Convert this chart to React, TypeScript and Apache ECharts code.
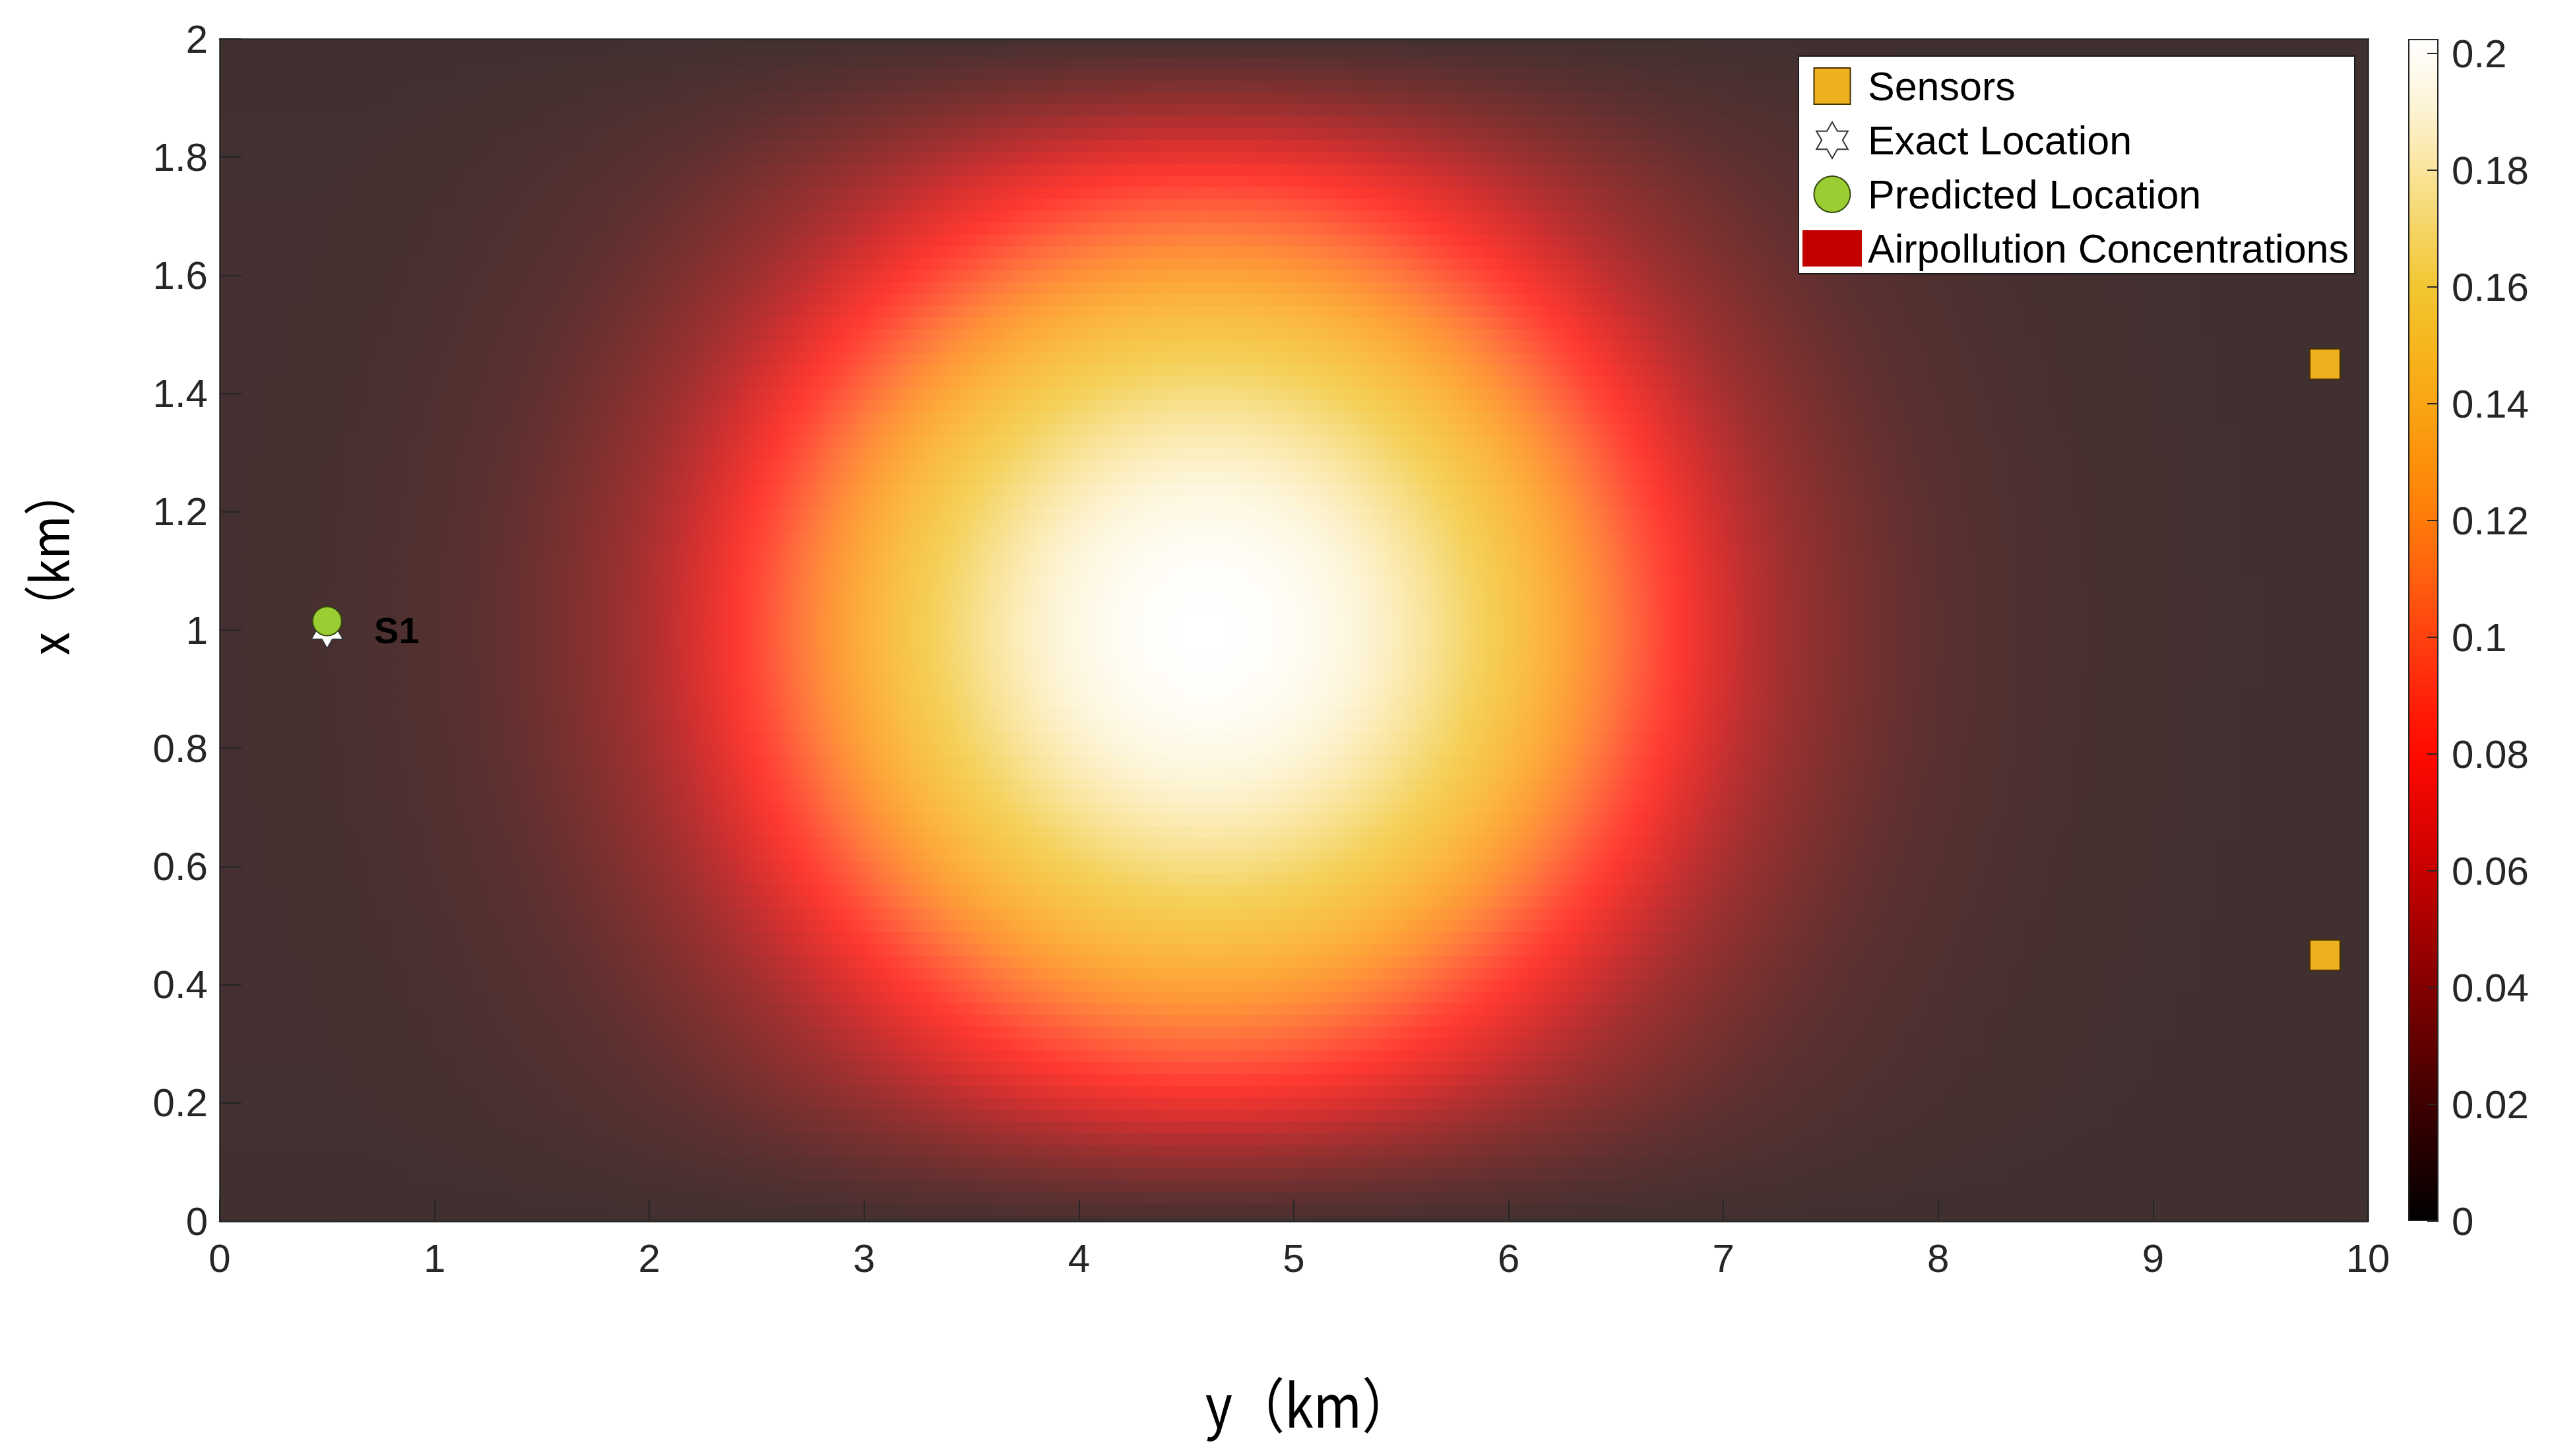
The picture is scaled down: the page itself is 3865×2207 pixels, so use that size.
import React, { useEffect, useRef } from "react";
import * as echarts from "echarts";

// ---------------- data ----------------
// sample positions along the horizontal axis "y (km)" and vertical axis "x (km)"
const ROW_Y: number[] = Array.from({ length: 101 }, (_, i) => +(i * 0.1).toFixed(1));
const COL_X: number[] = Array.from({ length: 101 }, (_, j) => +(j * 0.02).toFixed(2));

// concentration along the line x = 1.0 km, at y = 0, 0.1, ..., 10 km
const ROW_PROFILE: number[] = [
  0.0076, 0.0079, 0.0082, 0.0086, 0.0091, 0.0096, 0.0102, 0.011, 0.0119, 0.013,
  0.0143, 0.0158, 0.0176, 0.0198, 0.0224, 0.0255, 0.0292, 0.0328, 0.037, 0.0419,
  0.0476, 0.0541, 0.0615, 0.0699, 0.0789, 0.0886, 0.0984, 0.1082, 0.1177, 0.1268,
  0.1355, 0.1437, 0.1513, 0.1584, 0.165, 0.171, 0.1766, 0.1815, 0.186, 0.1899,
  0.1933, 0.1961, 0.1985, 0.2002, 0.2015, 0.2022, 0.2025, 0.2022, 0.2015, 0.2002,
  0.1985, 0.1961, 0.1933, 0.1899, 0.186, 0.1815, 0.1766, 0.171, 0.165, 0.1584,
  0.1513, 0.1437, 0.1355, 0.1268, 0.1177, 0.1082, 0.0984, 0.0886, 0.0789, 0.0699,
  0.0615, 0.0541, 0.0476, 0.0419, 0.037, 0.0328, 0.0292, 0.0255, 0.0224, 0.0198,
  0.0176, 0.0158, 0.0143, 0.013, 0.0119, 0.011, 0.0102, 0.0096, 0.0091, 0.0086,
  0.0082, 0.0079, 0.0076, 0.0074, 0.0072, 0.007, 0.0068, 0.0067, 0.0066, 0.0065,
  0.0064,
];

// concentration along the line y = 4.6 km, at x = 0, 0.02, ..., 2 km
const COL_PROFILE: number[] = [
  0.0085, 0.014, 0.0195, 0.0248, 0.0305, 0.0365, 0.0428, 0.0494, 0.0562, 0.0632,
  0.0702, 0.0772, 0.084, 0.0905, 0.0968, 0.1023, 0.1078, 0.1131, 0.1184, 0.1236,
  0.1285, 0.1334, 0.1381, 0.1427, 0.147, 0.1513, 0.1551, 0.1592, 0.1629, 0.1664,
  0.1698, 0.1732, 0.1762, 0.1791, 0.1817, 0.1843, 0.1867, 0.1889, 0.1909, 0.1928,
  0.1944, 0.196, 0.1974, 0.1987, 0.1996, 0.2005, 0.2012, 0.2017, 0.2021, 0.2024,
  0.2025,
  0.2024, 0.2021, 0.2017, 0.2012, 0.2005, 0.1996, 0.1987, 0.1974, 0.196, 0.1944,
  0.1928, 0.1909, 0.1889, 0.1867, 0.1843, 0.1817, 0.1791, 0.1762, 0.1732, 0.1698,
  0.1664, 0.1629, 0.1592, 0.1551, 0.1513, 0.147, 0.1427, 0.1381, 0.1334, 0.1285,
  0.1236, 0.1184, 0.1131, 0.1078, 0.1023, 0.0968, 0.0905, 0.084, 0.0772, 0.0702,
  0.0632, 0.0562, 0.0494, 0.0428, 0.0365, 0.0305, 0.0248, 0.0195, 0.014, 0.0085,
];

const SOURCE_Y = 4.6; // plume centre (horizontal axis, km)
const SOURCE_X = 1.0; // plume centre (vertical axis, km)
const CONTOUR_ASPECT = 2.8; // 1 km of x reaches as far out in the plume as 2.8 km of y
const PEAK = 0.2025; // colour-axis maximum (white)
const FLOOR = 0.006; // far-field background concentration

const SENSORS: number[][] = [
  [9.8, 1.45],
  [9.8, 0.45],
];
const EXACT: number[][] = [[0.5, 1.0]];
const PREDICTED: number[][] = [[0.5, 1.015]];
const EXACT_LABEL = "S1";

const X_TICKS_MAX = 10;
const Y_TICKS_MAX = 2;
const COLORBAR_TICKS: number[] = [0, 0.02, 0.04, 0.06, 0.08, 0.1, 0.12, 0.14, 0.16, 0.18, 0.2];

const LEGEND_NAMES = ["Sensors", "Exact Location", "Predicted Location", "Airpollution Concentrations"];

// colour map as seen on the colour bar: [value, r, g, b]
const COLORMAP: number[][] = [
  [0, 0, 0, 0],
  [0.02, 62, 0, 0],
  [0.04, 130, 0, 0],
  [0.06, 200, 0, 0],
  [0.08, 255, 10, 0],
  [0.09, 255, 35, 10],
  [0.1, 255, 65, 15],
  [0.11, 255, 95, 15],
  [0.12, 255, 122, 10],
  [0.13, 252, 145, 10],
  [0.14, 250, 165, 20],
  [0.15, 246, 182, 30],
  [0.16, 242, 198, 50],
  [0.17, 245, 212, 100],
  [0.18, 250, 228, 155],
  [0.19, 253, 243, 210],
  [0.2025, 255, 255, 255],
];

// ---------------- styling helpers ----------------
const ALPHA = 0.81; // surface drawn semi-transparent over white
const AXIS_COLOR = "#262626";
const TICK_FONT = "Liberation Sans";

function mapRGB(v: number): number[] {
  if (v <= COLORMAP[0][0]) return COLORMAP[0].slice(1);
  for (let k = 1; k < COLORMAP.length; k++) {
    const a = COLORMAP[k - 1];
    const b = COLORMAP[k];
    if (v <= b[0]) {
      const f = (v - a[0]) / (b[0] - a[0]);
      return [a[1] + (b[1] - a[1]) * f, a[2] + (b[2] - a[2]) * f, a[3] + (b[3] - a[3]) * f];
    }
  }
  return COLORMAP[COLORMAP.length - 1].slice(1);
}
function surfaceColor(v: number): string {
  const c = mapRGB(v);
  const mix = (x: number) => Math.round(ALPHA * x + (1 - ALPHA) * 255);
  return `rgb(${mix(c[0])},${mix(c[1])},${mix(c[2])})`;
}
// read the row profile at a signed distance from the source (shading between samples)
function rowAt(signedDist: number): number {
  const yy = Math.max(ROW_Y[0], Math.min(ROW_Y[ROW_Y.length - 1], SOURCE_Y + signedDist));
  const step = ROW_Y[1] - ROW_Y[0];
  const k = Math.min(ROW_Y.length - 2, Math.floor((yy - ROW_Y[0]) / step + 1e-9));
  const f = (yy - ROW_Y[k]) / step;
  return ROW_PROFILE[k] + (ROW_PROFILE[k + 1] - ROW_PROFILE[k]) * f;
}
function field(i: number, j: number): number {
  const dy = ROW_Y[i] - SOURCE_Y;
  const dx = COL_X[j] - SOURCE_X;
  const rho = Math.sqrt(dy * dy + CONTOUR_ASPECT * CONTOUR_ASPECT * dx * dx);
  const base = rowAt(dy < 0 ? -rho : rho);
  const along = rowAt(CONTOUR_ASPECT * Math.abs(dx)) - FLOOR;
  const atten = along > 1e-6 ? Math.min(1.1, (COL_PROFILE[j] - FLOOR) / along) : 1;
  return FLOOR + (base - FLOOR) * atten;
}

const HEXAGRAM =
  "path://M10,0L12.887,5L18.66,5L15.774,10L18.66,15L12.887,15L10,20L7.113,15L1.34,15L4.226,10L1.34,5L7.113,5Z";
const SQUARE = "path://M0,0H10V10H0Z";

export default function App() {
  const ref = useRef<HTMLDivElement>(null);

  useEffect(() => {
    if (!ref.current) return;
    const chart = echarts.init(ref.current, undefined, { renderer: "svg" });

    const rowGradients = COL_X.map(
      (_, j) =>
        new echarts.graphic.LinearGradient(
          0,
          0,
          1,
          0,
          ROW_Y.map((y, i) => ({
            offset: (y - ROW_Y[0]) / (ROW_Y[ROW_Y.length - 1] - ROW_Y[0]),
            color: surfaceColor(field(i, j)),
          }))
        )
    );
    const halfStep = (COL_X[1] - COL_X[0]) / 2;

    const barStops = COLORMAP.map((s) => ({
      offset: s[0] / PEAK,
      color: `rgb(${s[1]},${s[2]},${s[3]})`,
    }));

    const tickLabelStyle = {
      fontSize: 60,
      fontFamily: TICK_FONT,
      color: AXIS_COLOR,
    };

    const option: any = {
      animation: false,
      backgroundColor: "#ffffff",
      grid: [
        { left: 333, top: 59, width: 3256, height: 1792, show: false },
        { left: 3650, top: 59, width: 46, height: 1792, show: false },
      ],
      xAxis: [
        {
          gridIndex: 0,
          type: "value",
          min: 0,
          max: X_TICKS_MAX,
          interval: 1,
          position: "bottom",
          z: 10,
          axisLine: { show: true, onZero: false, lineStyle: { color: AXIS_COLOR, width: 2.5 } },
          axisTick: { show: true, inside: true, length: 33, lineStyle: { color: AXIS_COLOR, width: 2 } },
          axisLabel: { ...tickLabelStyle, margin: 26 },
          splitLine: { show: false },
        },
        {
          gridIndex: 1,
          type: "category",
          data: ["cb"],
          show: false,
        },
        {
          gridIndex: 0,
          type: "value",
          min: 0,
          max: X_TICKS_MAX,
          position: "top",
          z: 10,
          axisLine: { show: true, onZero: false, lineStyle: { color: AXIS_COLOR, width: 2.5 } },
          axisTick: { show: false },
          axisLabel: { show: false },
          splitLine: { show: false },
        },
      ],
      yAxis: [
        {
          gridIndex: 0,
          type: "value",
          min: 0,
          max: Y_TICKS_MAX,
          interval: 0.2,
          position: "left",
          z: 10,
          axisLine: { show: true, onZero: false, lineStyle: { color: AXIS_COLOR, width: 2.5 } },
          axisTick: { show: true, inside: true, length: 33, lineStyle: { color: AXIS_COLOR, width: 2 } },
          axisLabel: { ...tickLabelStyle, margin: 18 },
          splitLine: { show: false },
        },
        {
          gridIndex: 1,
          type: "value",
          min: 0,
          max: PEAK,
          interval: 0.02,
          position: "right",
          z: 10,
          axisLine: { show: false },
          axisTick: {
            show: true,
            inside: true,
            length: 17,
            customValues: COLORBAR_TICKS,
            lineStyle: { color: AXIS_COLOR, width: 2 },
          },
          axisLabel: { ...tickLabelStyle, margin: 20, customValues: COLORBAR_TICKS },
          splitLine: { show: false },
        },
        {
          gridIndex: 0,
          type: "value",
          min: 0,
          max: Y_TICKS_MAX,
          position: "right",
          z: 10,
          axisLine: { show: true, onZero: false, lineStyle: { color: AXIS_COLOR, width: 2.5 } },
          axisTick: { show: false },
          axisLabel: { show: false },
          splitLine: { show: false },
        },
      ],
      legend: {
        show: true,
        orient: "vertical",
        left: 2726,
        top: 85,
        padding: [15, 9, 8, 6],
        itemGap: 21,
        itemWidth: 90,
        itemHeight: 55,
        backgroundColor: "#ffffff",
        borderColor: "#1a1a1a",
        borderWidth: 2,
        selectedMode: false,
        symbolKeepAspect: true,
        z: 20,
        textStyle: { fontSize: 61, fontFamily: TICK_FONT, color: "#000000", padding: [0, 0, 0, 4] },
        data: [
          { name: LEGEND_NAMES[0], icon: SQUARE },
          { name: LEGEND_NAMES[1], icon: HEXAGRAM },
          { name: LEGEND_NAMES[2], icon: "circle" },
          { name: LEGEND_NAMES[3], icon: "rect", itemStyle: { color: "#c20000", borderWidth: 0 } },
        ],
      },
      series: [
        {
          name: LEGEND_NAMES[3],
          type: "custom",
          xAxisIndex: 0,
          yAxisIndex: 0,
          silent: true,
          progressive: 0,
          itemStyle: { color: "#c20000" },
          data: COL_X.map((x, j) => [SOURCE_Y, x, j]),
          renderItem: (params: any, api: any) => {
            const j = api.value(2);
            const x = COL_X[j];
            const p0 = api.coord([ROW_Y[0], Math.min(Y_TICKS_MAX, x + halfStep)]);
            const p1 = api.coord([ROW_Y[ROW_Y.length - 1], Math.max(0, x - halfStep)]);
            return {
              type: "rect",
              shape: {
                x: p0[0],
                y: p0[1],
                width: p1[0] - p0[0],
                height: p1[1] - p0[1] + (j > 0 ? 1 : 0),
              },
              style: { fill: rowGradients[j] },
            };
          },
          z: 2,
        },
        {
          name: "colorbar",
          type: "bar",
          xAxisIndex: 1,
          yAxisIndex: 1,
          silent: true,
          barWidth: "100%",
          data: [PEAK],
          itemStyle: {
            color: new echarts.graphic.LinearGradient(0, 1, 0, 0, barStops),
            borderColor: AXIS_COLOR,
            borderWidth: 2,
          },
          z: 2,
        },
        {
          name: LEGEND_NAMES[0],
          type: "scatter",
          xAxisIndex: 0,
          yAxisIndex: 0,
          data: SENSORS,
          symbol: "rect",
          symbolSize: 46,
          itemStyle: { color: "#EDB120", borderColor: "#4a3000", borderWidth: 2, opacity: 1 },
          z: 5,
        },
        {
          name: LEGEND_NAMES[1],
          type: "scatter",
          xAxisIndex: 0,
          yAxisIndex: 0,
          data: EXACT,
          symbol: HEXAGRAM,
          symbolSize: 56,
          symbolKeepAspect: true,
          itemStyle: { color: "#ffffff", borderColor: "#333333", borderWidth: 2, opacity: 1 },
          label: {
            show: true,
            formatter: EXACT_LABEL,
            position: "right",
            distance: 46,
            fontSize: 56,
            fontWeight: "bold",
            fontFamily: TICK_FONT,
            color: "#000000",
          },
          z: 5,
        },
        {
          name: LEGEND_NAMES[2],
          type: "scatter",
          xAxisIndex: 0,
          yAxisIndex: 0,
          data: PREDICTED,
          symbol: "circle",
          symbolSize: 44,
          itemStyle: { color: "#9ACD32", borderColor: "#34480c", borderWidth: 2, opacity: 1 },
          z: 6,
        },
      ],
      graphic: [
        {
          type: "text",
          x: 1985,
          y: 2125,
          scaleX: 0.88,
          silent: true,
          style: {
            text: "y（km）",
            fontSize: 90,
            fontFamily: "Noto Sans CJK SC",
            fill: "#000000",
            align: "center",
            verticalAlign: "middle",
          },
        },
        {
          type: "text",
          x: 70,
          y: 852,
          rotation: Math.PI / 2,
          scaleX: 0.89,
          silent: true,
          style: {
            text: "x（km）",
            fontSize: 80,
            fontFamily: "Noto Sans CJK SC",
            fill: "#000000",
            align: "center",
            verticalAlign: "middle",
          },
        },
      ],
    };

    chart.setOption(option);
    return () => {
      chart.dispose();
    };
  }, []);

  return (
    <div
      ref={ref}
      style={{ position: "fixed", left: 0, top: 0, width: "3865px", height: "2207px", background: "#fff" }}
    />
  );
}
